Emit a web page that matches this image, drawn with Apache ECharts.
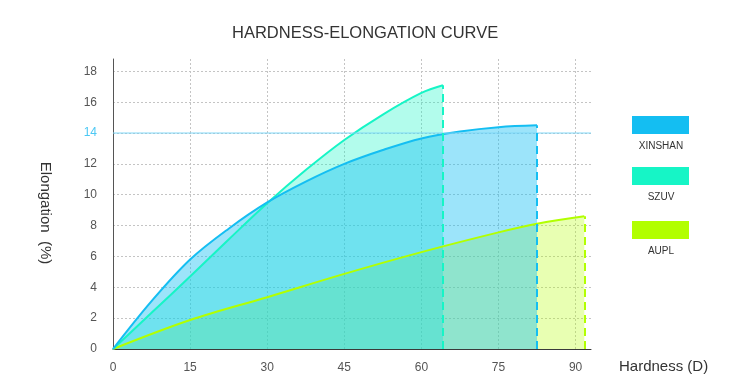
<!DOCTYPE html>
<html>
<head>
<meta charset="utf-8">
<script src="https://cdn.jsdelivr.net/npm/echarts@6/dist/echarts.min.js"></script>
<style>
html,body{margin:0;padding:0;background:#fff;}
#chart{width:744px;height:389px;}
</style>
</head>
<body>
<div id="chart"></div>
<script>
// ---- data ----
var seriesNames = ['XINSHAN', 'SZUV', 'AUPL'];
var seriesColors = ['#14BEF2', '#16F5C6', '#B2FF00'];

var xinshanHardness   = [0, 7.5, 15, 22.5, 30, 37.5, 45, 52.5, 60, 67.5, 75, 82.5];
var xinshanElongation = [0, 3.1, 5.8, 7.8, 9.5, 10.85, 12.0, 12.9, 13.65, 14.1, 14.38, 14.5];

var szuvHardness   = [0, 7.5, 15, 22.5, 30, 37.5, 45, 52.5, 60, 64.2];
var szuvElongation = [0, 2.35, 4.7, 7.1, 9.45, 11.6, 13.55, 15.2, 16.6, 17.1];

var auplHardness   = [0, 15, 30, 45, 60, 75, 82.5, 91.7];
var auplElongation = [0, 1.88, 3.36, 4.87, 6.28, 7.56, 8.12, 8.6];

var xMin = 0, xMax = 93, xTickInterval = 15;
var yMin = 0, yMax = 18.8, yTickInterval = 2;
var highlightValue = 14;

// ---- build ----
function pairs(xs, ys) { return xs.map(function (x, i) { return [x, ys[i]]; }); }

var dataSets = [
  pairs(xinshanHardness, xinshanElongation),
  pairs(szuvHardness, szuvElongation),
  pairs(auplHardness, auplElongation)
];
var areaOpacity = [0.42, 0.33, 0.3];
var font = '"Liberation Sans", Arial, Helvetica, sans-serif';
var gridColor = '#c4c4c4';
var highlightColor = '#7DD6F7';

function makeSeries(idx) {
  var d = dataSets[idx];
  var last = d[d.length - 1];
  return {
    name: seriesNames[idx],
    type: 'line',
    data: d,
    color: seriesColors[idx],
    smooth: 0.35,
    showSymbol: false,
    symbol: 'none',
    z: 2,
    lineStyle: { color: seriesColors[idx], width: 2 },
    itemStyle: { color: seriesColors[idx] },
    areaStyle: { color: seriesColors[idx], opacity: areaOpacity[idx] },
    markLine: {
      silent: true,
      symbol: ['none', 'none'],
      label: { show: false },
      lineStyle: { color: seriesColors[idx], type: [8, 5], width: 2 },
      data: [[{ coord: [last[0], 0] }, { coord: [last[0], last[1]] }]]
    }
  };
}

// draw order: AUPL bottom, XINSHAN on top
var series = [makeSeries(2), makeSeries(1), makeSeries(0)];
// highlighted reference line at 14 (spans the x axis range)
series.push({
  name: 'ref14',
  type: 'line',
  data: [[xMin, highlightValue], [xMax, highlightValue]],
  showSymbol: false,
  symbol: 'none',
  silent: true,
  z: 3,
  lineStyle: { color: highlightColor, width: 1, type: 'solid' },
  itemStyle: { color: highlightColor }
});

var legendGraphics = [];
var legendTop = [116, 167, 221];
seriesNames.forEach(function (n, i) {
  legendGraphics.push({
    type: 'rect', x: 632, y: legendTop[i],
    shape: { width: 57, height: 18 },
    style: { fill: seriesColors[i] }
  });
  legendGraphics.push({
    type: 'text', x: 661, y: legendTop[i] + 30,
    style: { text: n, fill: '#333', font: '10px ' + font, align: 'center', verticalAlign: 'middle' }
  });
});

var chart = echarts.init(document.getElementById('chart'), null, { renderer: 'canvas' });
chart.setOption({
  animation: false,
  backgroundColor: '#fff',
  textStyle: { fontFamily: font },
  title: {
    text: 'HARDNESS-ELONGATION CURVE',
    left: 227,
    top: 20,
    textStyle: { fontSize: 16.5, fontWeight: 'normal', color: '#333', fontFamily: font }
  },
  grid: { left: 113, right: 153, top: 59, bottom: 40, containLabel: false },
  xAxis: {
    type: 'value',
    min: xMin, max: xMax, interval: xTickInterval,
    name: 'Hardness (D)',
    nameLocation: 'end',
    nameGap: 28,
    nameTextStyle: { fontSize: 15, color: '#333', verticalAlign: 'top', padding: [10, 0, 0, 0], fontFamily: font },
    axisLine: { show: true, lineStyle: { color: '#3a3a3a', width: 1 } },
    axisTick: { show: false },
    axisLabel: { color: '#555', fontSize: 12, margin: 13, showMaxLabel: false, fontFamily: font },
    splitLine: { show: true, showMinLine: false, showMaxLine: false, lineStyle: { color: gridColor, type: [2, 2], width: 1 } }
  },
  yAxis: {
    type: 'value',
    min: yMin, max: yMax, interval: yTickInterval,
    name: 'Elongation  (%)',
    nameLocation: 'middle',
    nameRotate: -90,
    nameGap: 60,
    nameTextStyle: { fontSize: 15, color: '#333', padding: [0, 0, 0, 18], fontFamily: font },
    axisLine: { show: true, lineStyle: { color: '#555', width: 1 } },
    axisTick: { show: false },
    axisLabel: {
      fontSize: 12, margin: 16, showMaxLabel: false, fontFamily: font,
      color: function (v) { return Number(v) === highlightValue ? '#4CC8F4' : '#555'; }
    },
    splitLine: { show: true, showMinLine: false, showMaxLine: false, lineStyle: { color: gridColor, type: [2, 2], width: 1 } }
  },
  graphic: legendGraphics,
  series: series
});
</script>
</body>
</html>
